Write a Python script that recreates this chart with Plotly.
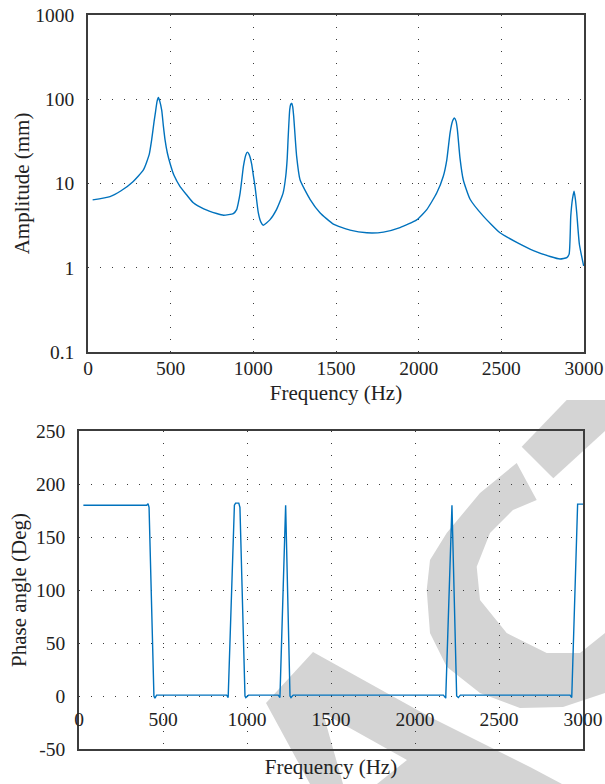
import plotly.graph_objects as go

# ---------------- data ----------------
amp_freq = [28, 133, 200, 272, 335, 370, 385, 400, 407, 418, 426, 434, 446, 456, 466, 480, 496, 520,
            557, 600, 637, 700, 778, 820, 879, 899, 910, 920, 930, 940, 955, 964, 975, 990, 1000, 1010,
            1030, 1045, 1060, 1100, 1140, 1180, 1196, 1205, 1210, 1220, 1226, 1232, 1238, 1244, 1262,
            1283, 1343, 1403, 1484, 1585, 1686, 1787, 1887, 1988, 2049, 2109, 2149, 2170, 2190, 2205,
            2216, 2226, 2234, 2250, 2270, 2311, 2391, 2492, 2593, 2694, 2795, 2855, 2896, 2910, 2920,
            2930, 2940, 2948, 2956, 2972, 2998]
amp_mm = [6.4, 7.0, 8.2, 10.5, 14.5, 22, 33, 55, 68, 95, 105, 95, 74, 48, 33, 23, 17.4, 12.5,
          9.2, 7.2, 5.9, 5.0, 4.4, 4.2, 4.4, 4.9, 6.0, 7.7, 11, 16, 22, 23.6, 22, 17, 12.5, 9.3,
          4.5, 3.5, 3.2, 3.7, 4.9, 7.7, 12.2, 20, 33, 75, 87, 90, 82, 63, 21,
          11, 6.5, 4.5, 3.3, 2.8, 2.6, 2.65, 3.0, 3.7, 4.9, 7.7, 12.2, 19, 40, 55,
          60, 55, 44, 20, 11, 6.5, 4.1, 2.6, 2.0, 1.6, 1.36, 1.27, 1.32, 1.45, 4.1,
          6.5, 8.1, 6.5, 4.5, 1.9, 1.05]

ph_freq = [26, 403, 411, 417, 446, 452, 462, 879, 888, 925, 932, 951, 958, 988, 993, 1009,
           1186, 1196, 1230, 1256, 1262, 1275, 2169, 2183, 2220, 2248, 2258, 2270, 2923, 2933,
           2968, 3000]
ph_deg = [180, 180, 181.5, 178, 0, -2, 0.8, 0.8, -1.5, 180, 182, 182, 178, 0, -1.5, 0.8,
          0.8, -1.5, 180, 0, -1.5, 0.8, 0.8, -2, 180, 0, -1.5, 0.8, 0.8, -1.5,
          181, 181]

x_ticks = [0, 500, 1000, 1500, 2000, 2500, 3000]
x_ticktext = ["0", "500", "1000", "1500", "2000", "2500", "3000"]
amp_ticks = [0.1, 1, 10, 100, 1000]
amp_ticktext = ["0.1", "1", "10", "100", "1000"]
ph_ticks = [-50, 0, 50, 100, 150, 200, 250]
ph_ticktext = ["-50", "0", "50", "100", "150", "200", "250"]

# ---------------- style ----------------
W, H = 605, 784
FONT = "'Liberation Serif', 'Times New Roman', 'DejaVu Serif', serif"
LINE_C = "#0072BD"
FRAME_C = "#3c3c3c"
GRID_C = "#3a3a3a"
TXT_C = "#222222"
WM_C = "rgb(212,212,212)"


def px(x):
    return x / W


def py(y):
    return 1 - y / H


fig = go.Figure()
fig.add_trace(go.Scatter(x=amp_freq, y=amp_mm, mode="lines",
                         line=dict(color=LINE_C, width=1.4, shape="spline", smoothing=0.5),
                         xaxis="x", yaxis="y", showlegend=False))
fig.add_trace(go.Scatter(x=ph_freq, y=ph_deg, mode="lines",
                         line=dict(color=LINE_C, width=1.4),
                         xaxis="x2", yaxis="y2", showlegend=False))
# empty trace to host the tick-label axis that sits on y = 0
fig.add_trace(go.Scatter(x=[], y=[], xaxis="x3", yaxis="y2", showlegend=False))

tickfont = dict(family=FONT, size=19.5, color=TXT_C)
titlefont = dict(family=FONT, size=21, color=TXT_C)
grid = dict(showgrid=True, gridcolor=GRID_C, gridwidth=1, griddash="1.3px,10.7px")
frame = dict(showline=True, linecolor=FRAME_C, linewidth=1.6, mirror=True, ticks="",
             zeroline=False, automargin=False)

fig.update_layout(
    width=W, height=H,
    margin=dict(l=0, r=0, t=0, b=0, pad=0, autoexpand=False),
    paper_bgcolor="white",
    plot_bgcolor="rgba(0,0,0,0)",
    showlegend=False,
    font=dict(family=FONT, color=TXT_C),
    xaxis=dict(domain=[px(88), px(584)], anchor="y", range=[0, 3000],
               tickmode="array", tickvals=x_ticks, ticktext=x_ticktext,
               tickfont=tickfont, ticklabelstandoff=-2,
               title=dict(text="Frequency (Hz)", font=titlefont, standoff=7),
               **grid, **frame),
    yaxis=dict(domain=[py(352), py(15)], anchor="x", type="log", range=[-1, 3],
               tickmode="array", tickvals=amp_ticks, ticktext=amp_ticktext,
               tickfont=tickfont, ticklabelstandoff=8,
               title=dict(text="Amplitude (mm)", font=titlefont, standoff=0),
               **grid, **frame),
    xaxis2=dict(domain=[px(79), px(583)], anchor="y2", range=[0, 3000],
                tickmode="array", tickvals=x_ticks, showticklabels=False,
                title=dict(text="Frequency (Hz)", font=titlefont, standoff=9),
                **grid, **frame),
    yaxis2=dict(domain=[py(749), py(431)], anchor="x2", range=[-50, 250],
                tickmode="array", tickvals=ph_ticks, ticktext=ph_ticktext,
                tickfont=tickfont, ticklabelstandoff=8,
                title=dict(text="Phase angle (Deg)", font=titlefont, standoff=4),
                **grid, **frame),
    xaxis3=dict(overlaying="x2", anchor="free", position=py(695), side="bottom",
                range=[0, 3000], tickmode="array", tickvals=x_ticks, ticktext=x_ticktext,
                tickfont=tickfont, ticklabelstandoff=10, showgrid=False, showline=False,
                zeroline=False, ticks="", automargin=False),
)


# ---------------- watermark (stamp fragments) ----------------
def path(*polys):
    s = ""
    for poly in polys:
        s += "M " + " L ".join(f"{px(x):.5f},{py(y):.5f}" for x, y in poly) + " Z "
    return s


a_outer = [(313, 652), (430, 717), (530, 767), (562, 784), (310, 784), (266, 703)]
a_notch = [(323, 713), (407, 760), (377, 784), (343, 784)]
c_ring = [(516.7, 463), (480, 493), (446.7, 533), (430, 560), (426.7, 590), (430, 633),
          (446.7, 666.7), (480, 693), (520, 708), (563, 707), (605, 693),
          (605, 633), (580, 653), (546.7, 653), (506.7, 633), (480, 600), (476.7, 566.7),
          (490, 533), (513, 510), (536.7, 500)]
t_band = [(566.7, 400), (605, 400), (605, 431), (553.3, 478.3), (521.7, 446.7)]

for p in [path(a_outer, a_notch), path(c_ring), path(t_band)]:
    fig.add_shape(type="path", path=p, xref="paper", yref="paper",
                  fillcolor=WM_C, line=dict(width=0), layer="below", fillrule="evenodd")

fig.write_html("out.html", config={"displayModeBar": False},
               post_script="document.body.style.margin='0';document.body.style.padding='0';")
